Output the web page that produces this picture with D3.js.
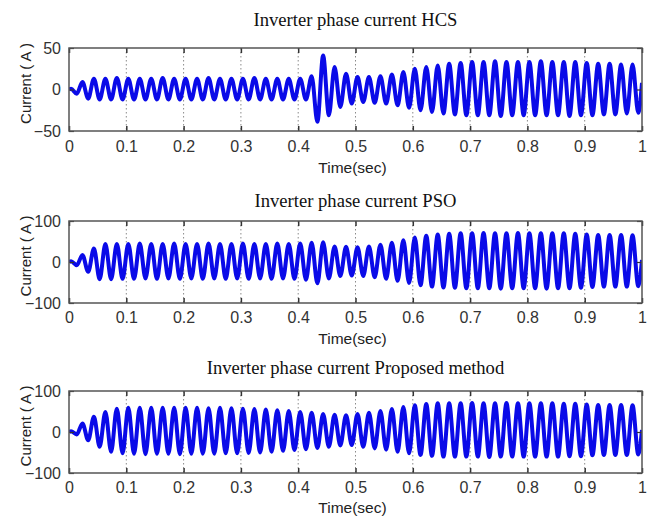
<!DOCTYPE html>
<html>
<head>
<meta charset="utf-8">
<script src="https://cdn.jsdelivr.net/npm/d3@7"></script>
<style>
  html, body { margin: 0; padding: 0; background: #fff; }
  svg { display: block; }
</style>
</head>
<body>
<svg id="chart" width="651" height="517"></svg>
<script>
// Panel titles and axis ticks
const panelTitles = [
  "Inverter phase current HCS",
  "Inverter phase current PSO",
  "Inverter phase current Proposed method"
];
const timeTicks = [0, 0.1, 0.2, 0.3, 0.4, 0.5, 0.6, 0.7, 0.8, 0.9, 1];
const yTicksHCS = [-50, 0, 50];
const yTicksPSO = [-100, 0, 100];
const yTicksProposed = [-100, 0, 100];

// Half-cycle peak currents (A) of the 50 Hz waveform, one per 10 ms,
// the first one at t = 3.5 ms. Each trace starts at 0 A at t = 0.
const firstPeakTime = 0.0035;
const halfPeriod = 0.01;

const hcsPeaks = [
  1, -5, 9, -11, 13, -12, 13, -12, 14, -12,
  13, -12, 13, -12, 13, -12, 14, -12, 13, -12,
  13, -12, 13, -12, 14, -12, 13, -12, 13, -12,
  13, -12, 14, -12, 13, -12, 13, -12, 13, -12,
  13, -12, 16, -39, 41, -31, 27, -21, 19, -17,
  15, -15, 15, -16, 16, -17, 18, -19, 21, -22,
  25, -25, 27, -27, 29, -29, 31, -30, 32, -31,
  33, -31, 33, -31, 34, -32, 33, -31, 33, -31,
  33, -31, 34, -31, 33, -31, 33, -32, 33, -31,
  32, -31, 31, -30, 31, -30, 30, -29, 30, -28
];
const psoPeaks = [
  2, -8, 17, -24, 33, -42, 44, -42, 44, -41,
  44, -41, 45, -40, 44, -41, 44, -40, 45, -41,
  44, -40, 44, -41, 45, -40, 44, -41, 44, -40,
  45, -41, 44, -40, 44, -41, 45, -40, 44, -41,
  45, -43, 47, -52, 48, -40, 38, -34, 37, -33,
  36, -34, 38, -37, 42, -41, 47, -46, 53, -51,
  60, -57, 64, -60, 67, -62, 69, -63, 70, -64,
  70, -64, 71, -64, 70, -65, 70, -64, 71, -64,
  70, -64, 70, -65, 70, -64, 70, -64, 69, -63,
  67, -61, 66, -60, 66, -60, 66, -60, 65, -59
];
const proposedPeaks = [
  2, -6, 21, -20, 37, -36, 49, -48, 57, -52,
  59, -53, 59, -54, 59, -53, 59, -53, 59, -54,
  59, -53, 59, -53, 58, -53, 59, -52, 58, -52,
  57, -51, 56, -50, 55, -48, 53, -46, 51, -44,
  49, -42, 47, -39, 44, -36, 42, -33, 41, -32,
  44, -36, 47, -40, 51, -43, 56, -48, 61, -52,
  65, -56, 68, -58, 70, -60, 70, -60, 70, -60,
  71, -60, 70, -61, 70, -60, 71, -60, 70, -60,
  70, -60, 70, -60, 70, -60, 69, -59, 69, -59,
  67, -57, 66, -56, 66, -56, 66, -56, 65, -55
];
// current at t = 1 s
const endCurrents = [8, 5, 5];

const panels = [
  { title: panelTitles[0], peaks: hcsPeaks, yTicks: yTicksHCS, domain: [-50, 50], end: endCurrents[0], top: 48, bottom: 131, titleY: 26, tickY: 152, xlabelY: 173 },
  { title: panelTitles[1], peaks: psoPeaks, yTicks: yTicksPSO, domain: [-100, 100], end: endCurrents[1], top: 221, bottom: 303, titleY: 207, tickY: 323, xlabelY: 344 },
  { title: panelTitles[2], peaks: proposedPeaks, yTicks: yTicksProposed, domain: [-100, 100], end: endCurrents[2], top: 391, bottom: 473, titleY: 374, tickY: 493, xlabelY: 513 }
];

const left = 69, right = 642;
const svg = d3.select("#chart");
const x = d3.scaleLinear().domain([0, 1]).range([left, right]);

const sansFont = "'Liberation Sans', Arial, sans-serif";
const serifFont = "'Liberation Serif', 'Times New Roman', serif";

panels.forEach((p, i) => {
  const y = d3.scaleLinear().domain(p.domain).range([p.bottom, p.top]);
  const g = svg.append("g");

  // trace samples: start, half-cycle peaks, end
  const samples = [[0, 0]]
    .concat(p.peaks.map((v, k) => [firstPeakTime + k * halfPeriod, v]))
    .concat([[1, p.end]]);

  const clipId = "clip" + i;
  svg.append("clipPath").attr("id", clipId)
    .append("rect")
    .attr("x", left).attr("y", p.top)
    .attr("width", right - left).attr("height", p.bottom - p.top);

  // plot background
  g.append("rect")
    .attr("x", left).attr("y", p.top)
    .attr("width", right - left).attr("height", p.bottom - p.top)
    .attr("fill", "#fff");

  // vertical dotted grid
  g.append("g").selectAll("line")
    .data(timeTicks.slice(1, -1))
    .join("line")
    .attr("x1", d => x(d)).attr("x2", d => x(d))
    .attr("y1", p.top).attr("y2", p.bottom)
    .attr("stroke", "#8a8a8a")
    .attr("stroke-width", 1)
    .attr("stroke-dasharray", "1.5,2.5");

  // waveform
  const line = d3.line()
    .x(d => x(d[0]))
    .y(d => y(d[1]))
    .curve(d3.curveMonotoneX);
  g.append("path")
    .datum(samples)
    .attr("clip-path", `url(#${clipId})`)
    .attr("d", line)
    .attr("fill", "none")
    .attr("stroke", "#0a0ae8")
    .attr("stroke-width", 4)
    .attr("stroke-linejoin", "round");

  // axes: bottom with labels, top/left/right as inward ticks only
  const xAxisBottom = d3.axisBottom(x).tickValues(timeTicks).tickSize(-5).tickFormat(d3.format("~g")).tickPadding(0);
  const gx = g.append("g").attr("transform", `translate(0,${p.bottom})`).call(xAxisBottom);
  gx.select(".domain").remove();
  gx.selectAll(".tick line").attr("stroke", "#333").attr("stroke-width", 1.5);
  gx.selectAll(".tick text")
    .attr("y", p.tickY - p.bottom)
    .attr("dy", null)
    .attr("font-family", sansFont).attr("font-size", 16).attr("fill", "#333");

  const xAxisTop = d3.axisTop(x).tickValues(timeTicks).tickSize(-5).tickFormat("");
  const gxt = g.append("g").attr("transform", `translate(0,${p.top})`).call(xAxisTop);
  gxt.select(".domain").remove();
  gxt.selectAll(".tick line").attr("stroke", "#333").attr("stroke-width", 1.5);

  const yAxisLeft = d3.axisLeft(y).tickValues(p.yTicks).tickSize(-5).tickPadding(8).tickFormat(d3.format("d"));
  const gy = g.append("g").attr("transform", `translate(${left},0)`).call(yAxisLeft);
  gy.select(".domain").remove();
  gy.selectAll(".tick line").attr("stroke", "#333").attr("stroke-width", 1.2);
  gy.selectAll(".tick text")
    .attr("font-family", sansFont).attr("font-size", 16).attr("fill", "#333");

  const yAxisRight = d3.axisRight(y).tickValues(p.yTicks).tickSize(-5).tickFormat("");
  const gyr = g.append("g").attr("transform", `translate(${right},0)`).call(yAxisRight);
  gyr.select(".domain").remove();
  gyr.selectAll(".tick line").attr("stroke", "#333").attr("stroke-width", 1.2);

  // frame
  g.append("rect")
    .attr("x", left).attr("y", p.top)
    .attr("width", right - left).attr("height", p.bottom - p.top)
    .attr("fill", "none")
    .attr("stroke", "#555")
    .attr("stroke-width", 1.5);

  // title
  g.append("text")
    .attr("x", (left + right) / 2).attr("y", p.titleY)
    .attr("text-anchor", "middle")
    .attr("font-family", serifFont).attr("font-size", 18.6).attr("fill", "#111")
    .text(p.title);

  // axis labels
  g.append("text")
    .attr("x", (left + right) / 2 - 3).attr("y", p.xlabelY)
    .attr("text-anchor", "middle")
    .attr("font-family", sansFont).attr("font-size", 15.5).attr("fill", "#222")
    .text("Time(sec)");

  const cy = (p.top + p.bottom) / 2 - 6;
  g.append("text")
    .attr("transform", `translate(31,${cy}) rotate(-90)`)
    .attr("text-anchor", "middle")
    .attr("font-family", sansFont).attr("font-size", 15).attr("fill", "#222")
    .text("Current ( A )");
});
</script>
</body>
</html>
